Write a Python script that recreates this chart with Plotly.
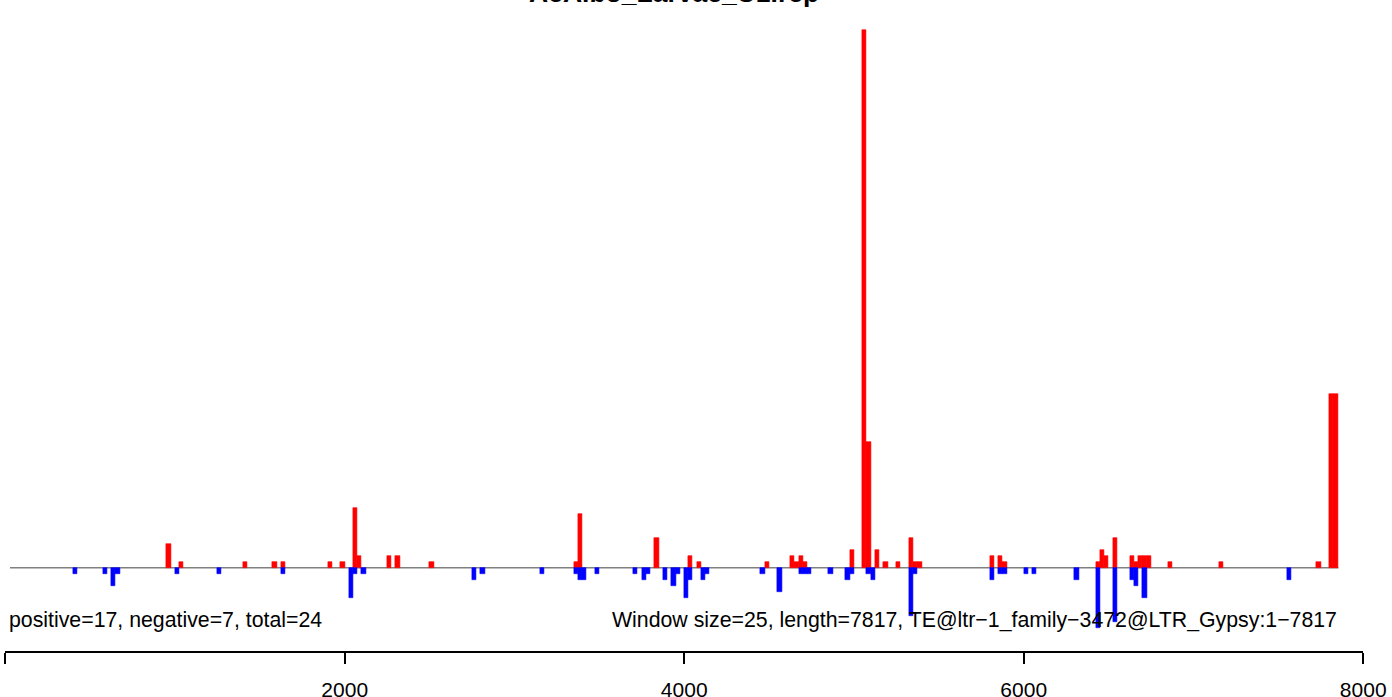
import plotly.graph_objects as go

W, H = 1392, 697

# window starts (window size 25) and read counts
pos_bins = [950, 1025, 1400, 1575, 1625, 1900, 1975, 2050, 2075, 2250, 2300, 2500,
            3350, 3375, 3825, 4025, 4075, 4475, 4625, 4650, 4675, 4700, 4975,
            5050, 5075, 5125, 5175, 5250, 5325, 5350, 5375,
            5800, 5850, 5875, 6425, 6450, 6475, 6525, 6625, 6650, 6675, 6700, 6725,
            6850, 7150, 7725, 7800, 7825]
pos_vals = [4, 1, 1, 1, 1, 1, 1, 10, 2, 2, 2, 1,
            1, 9, 5, 2, 1, 1, 2, 1, 2, 1, 3,
            90, 21, 3, 1, 1, 5, 1, 1,
            2, 2, 1, 1, 3, 2, 5, 2, 1, 2, 2, 2,
            1, 1, 1, 29, 29]

neg_bins = [400, 575, 625, 650, 1000, 1250, 1625, 2025, 2050, 2100,
            2750, 2800, 3150, 3350, 3375, 3400, 3475, 3700, 3750, 3775,
            3875, 3925, 3950, 4000, 4025, 4100, 4125, 4450, 4550,
            4675, 4700, 4725, 4850, 4950, 4975, 5075, 5100, 5325, 5350,
            5800, 5850, 5875, 6000, 6050, 6300, 6425, 6525, 6625, 6650, 6700, 7550]
neg_vals = [-1, -1, -3, -1, -1, -1, -1, -5, -1, -1,
            -2, -1, -1, -1, -2, -2, -1, -1, -2, -1,
            -2, -3, -1, -5, -2, -2, -1, -1, -4,
            -1, -1, -1, -1, -2, -1, -1, -2, -8, -1,
            -2, -1, -1, -1, -1, -2, -10, -9, -2, -3, -5, -2]

window = 25
xticks = [0, 2000, 4000, 6000, 8000]
title = "AeAlbo_Larvae_U1.rep"
left_text = "positive=17, negative=7, total=24"
right_text = "Window size=25, length=7817, TE@ltr\u22121_family\u22123472@LTR_Gypsy:1\u22127817"

# pixel geometry
x0_px, x8000_px = 5.2, 1363.2
ppu_y = 5.975
base_px = 567.75
ymax = base_px / ppu_y
ymin = (base_px - H) / ppu_y
axis_px = 652
ppu_x = (x8000_px - x0_px) / 8000


def py(px):
    return 1 - px / H


fig = go.Figure()
fig.add_trace(go.Bar(
    x=[b + window / 2 for b in pos_bins], y=pos_vals, width=window,
    marker=dict(color="#ff0000", line=dict(color="#ff0000", width=0.6)),
    showlegend=False, hoverinfo="x+y"))
fig.add_trace(go.Bar(
    x=[b + window / 2 for b in neg_bins], y=neg_vals, width=window,
    marker=dict(color="#0000ff", line=dict(color="#0000ff", width=0.6)),
    showlegend=False, hoverinfo="x+y"))

# baseline across plot region
fig.add_shape(type="line", xref="x", yref="y",
              x0=(10 - x0_px) / ppu_x, x1=(1338.5 - x0_px) / ppu_x,
              y0=0, y1=0, line=dict(color="#808080", width=1.6), layer="below")

fig.update_layout(
    width=W, height=H, autosize=False,
    margin=dict(l=0, r=0, t=0, b=0, pad=0, autoexpand=False),
    paper_bgcolor="white", plot_bgcolor="white",
    barmode="overlay", bargap=0,
    font=dict(family="Liberation Sans, Arial, sans-serif", color="black", size=21),
    xaxis=dict(
        domain=[x0_px / W, x8000_px / W], range=[0, 8000],
        anchor="free", position=py(axis_px), automargin=False,
        showline=True, linecolor="black", linewidth=1.6,
        ticks="outside", ticklen=11, tickwidth=1.6, tickcolor="black",
        tickvals=xticks, ticktext=[str(t) for t in xticks],
        tickfont=dict(size=21, color="black"), ticklabelstandoff=8,
        showgrid=False, zeroline=False, fixedrange=True),
    yaxis=dict(range=[ymin, ymax], visible=False, showgrid=False,
               zeroline=False, fixedrange=True, automargin=False),
    showlegend=False,
)

fig.add_annotation(text="<b>" + title + "</b>", xref="paper", yref="paper",
                   x=673.5 / W, y=py(10), xanchor="center", yanchor="bottom",
                   showarrow=False, font=dict(size=26.5, color="black"))
fig.add_annotation(text=left_text, xref="paper", yref="paper",
                   x=7 / W, y=py(633.5), xanchor="left", yanchor="bottom",
                   showarrow=False, font=dict(size=21.3, color="black"))
fig.add_annotation(text=right_text, xref="paper", yref="paper",
                   x=1339 / W, y=py(633.5), xanchor="right", yanchor="bottom",
                   showarrow=False, font=dict(size=21.3, color="black"))

fig.write_html("out.html", config={"responsive": False, "displayModeBar": False},
               default_width=f"{W}px", default_height=f"{H}px")

with open("out.html", encoding="utf-8") as f:
    html = f.read()
html = html.replace("<head>",
                    "<head><style>html,body{margin:0;padding:0;overflow:hidden;}</style>", 1)
with open("out.html", "w", encoding="utf-8") as f:
    f.write(html)
